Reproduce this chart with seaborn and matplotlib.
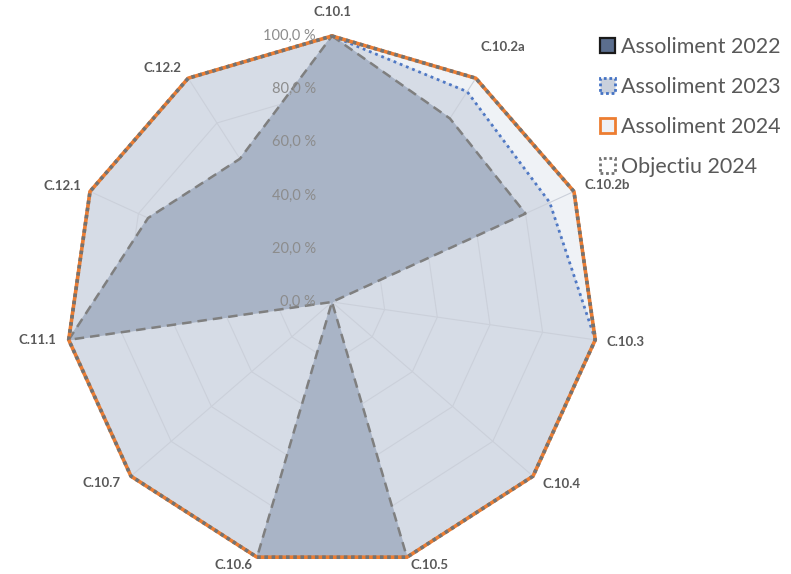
import numpy as np
import matplotlib
matplotlib.use("Agg")
import matplotlib.pyplot as plt
import matplotlib.transforms as mtrans
from matplotlib.patches import Patch
import seaborn as sns

# ---------------- data ----------------
categories = ["C.10.1", "C.10.2a", "C.10.2b", "C.10.3", "C.10.4", "C.10.5",
              "C.10.6", "C.10.7", "C.11.1", "C.12.1", "C.12.2"]
assoliment_2022 = [100, 82, 80, 0, 0, 100, 100, 0, 100, 76, 64]
assoliment_2023 = [100, 94, 90, 100, 100, 100, 100, 100, 100, 100, 100]
assoliment_2024 = [100, 100, 100, 100, 100, 100, 100, 100, 100, 100, 100]
objectiu_2024 = [100, 100, 100, 100, 100, 100, 100, 100, 100, 100, 100]
tick_values = [0, 20, 40, 60, 80, 100]
tick_labels = ["0,0 %", "20,0 %", "40,0 %", "60,0 %", "80,0 %", "100,0 %"]
series_names = ["Assoliment 2022", "Assoliment 2023", "Assoliment 2024", "Objectiu 2024"]

# ---------------- style ----------------
sns.set_style("white")
plt.rcParams["font.family"] = ["Lato", "DejaVu Sans"]

# pixel offsets of category labels from their 100 % vertex (layout only)
label_offsets_px = [(1, 24), (27, 31), (33, 6), (30, -2), (29, -8), (23, -8),
                    (-24, -8), (-29, -7), (-31, 0), (-28, 5), (-26, 10)]

n = len(categories)
theta = np.linspace(0, 2 * np.pi, n, endpoint=False)
theta_c = np.append(theta, 2 * np.pi)


def closed(vals):
    v = np.asarray(vals, dtype=float) / 100.0
    return np.append(v, v[0])


fig = plt.figure(figsize=(7.91, 5.74), dpi=100)
ax = fig.add_axes([0.0834, 0.0105, 0.6726, 0.9268], projection="polar")
ax.set_theta_zero_location("N")
ax.set_theta_direction(-1)
ax.set_ylim(0, 1)
ax.set_xticks([])
ax.set_yticks([])
ax.grid(False)
ax.spines["polar"].set_visible(False)
ax.patch.set_alpha(0)

# fills
ax.fill(theta_c, closed(assoliment_2024), color="#eff2f6", zorder=1, clip_on=False)
ax.fill(theta_c, closed(assoliment_2023), color="#d6dce6", zorder=1.1, clip_on=False)

# polygon grid
grid_col = "#cbd0da"
for tv in tick_values[1:]:
    ax.plot(theta_c, np.full(n + 1, tv / 100.0), color=grid_col, lw=0.8, zorder=1.5, clip_on=False)
for th in theta:
    ax.plot([th, th], [0, 1], color=grid_col, lw=0.8, zorder=1.5, clip_on=False)

ax.fill(theta_c, closed(assoliment_2022), color="#a9b4c6", zorder=2, clip_on=False)

# series lines via seaborn
sns.lineplot(x=theta_c, y=closed(assoliment_2022), sort=False, estimator=None, ax=ax,
             color="#7f7f7f", lw=1.8, linestyle=(0, (3.8, 2.4)), zorder=3, clip_on=False)
sns.lineplot(x=theta_c, y=closed(assoliment_2023), sort=False, estimator=None, ax=ax,
             color="#4f78c4", lw=2.0, linestyle=(0, (1, 1.4)), zorder=3.2, clip_on=False)
sns.lineplot(x=theta_c, y=closed(assoliment_2024), sort=False, estimator=None, ax=ax,
             color="#ED7D31", lw=2.6, zorder=3.4, clip_on=False)
sns.lineplot(x=theta_c, y=closed(objectiu_2024), sort=False, estimator=None, ax=ax,
             color="#737373", lw=2.6, linestyle=(0, (1, 1)), zorder=3.6, clip_on=False)

# radial tick labels
tick_tr = mtrans.offset_copy(ax.transData, fig=fig, x=-16, y=0, units="dots")
for tv, tl in zip(tick_values, tick_labels):
    ax.text(0, tv / 100.0, tl, transform=tick_tr, ha="right", va="center",
            color="#8c8c8c", fontsize=10.5, zorder=6)

# category labels
for th, lab, (dx, dy) in zip(theta, categories, label_offsets_px):
    tr = mtrans.offset_copy(ax.transData, fig=fig, x=dx, y=dy, units="dots")
    ax.text(th, 1.0, lab, transform=tr, ha="center", va="center",
            color="#595959", fontsize=9.5, fontweight="bold")

# legend
handles = [
    Patch(facecolor="#5b6e8e", edgecolor="#1a1a1a", linewidth=1.6),
    Patch(facecolor="#c9d0dc", edgecolor="#4472C4", linewidth=2.0, linestyle=(0, (1, 1))),
    Patch(facecolor="#eef1f6", edgecolor="#ED7D31", linewidth=2.0),
    Patch(facecolor="white", edgecolor="#737373", linewidth=2.0, linestyle=(0, (1, 1))),
]
leg = fig.legend(handles, series_names, loc="upper left", bbox_to_anchor=(0.758, 0.936),
                 frameon=False, fontsize=15.5, handlelength=0.7, handleheight=0.7,
                 handletextpad=0.3, labelspacing=0.93, borderpad=0, borderaxespad=0)
for t in leg.get_texts():
    t.set_color("#595959")

fig.savefig("out.png", dpi=100)
